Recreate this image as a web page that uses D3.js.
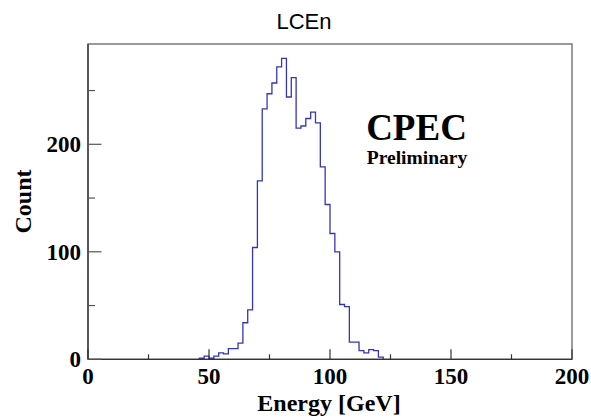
<!DOCTYPE html>
<html>
<head>
<meta charset="utf-8">
<script src="https://cdn.jsdelivr.net/npm/d3@7"></script>
<style>
  body { margin: 0; background: #fff; }
  svg { display: block; }
  .lbl { font-family: "Liberation Serif", "Times New Roman", serif; font-weight: bold; fill: #000; }
</style>
</head>
<body>
<div id="chart"></div>
<script>
// histogram LCEn, 2 GeV bins
const binEdgesLow = [46, 48, 50, 52, 54, 56, 58, 60, 62, 64,
                     66, 68, 70, 72, 74, 76, 78, 80, 82, 84,
                     86, 88, 90, 92, 94, 96, 98, 100, 102, 104,
                     106, 108, 110, 112, 114, 116, 118, 120];
const binWidth = 2;
const counts = [1, 3, 1, 3, 6, 5, 10, 10, 15, 34,
                46, 104, 166, 233, 247, 257, 272, 280, 244, 262,
                215, 217, 224, 230, 220, 179, 144, 117, 100, 51,
                49, 16, 16, 8, 6, 9, 8, 2];
const xMajorTicks = [0, 50, 100, 150, 200];
const xMinorTicks = [25, 75, 125, 175];
const yMajorTicks = [0, 100, 200];
const yMinorTicks = [50, 150, 250];

const W = 591, H = 418;
const plot = { left: 88, right: 572, top: 44, bottom: 359.3 };

const svg = d3.select("#chart").append("svg")
    .attr("width", W)
    .attr("height", H);

const x = d3.scaleLinear().domain([0, 200]).range([plot.left, plot.right]);
const y = d3.scaleLinear().domain([0, 293.3]).range([plot.bottom, plot.top]);

// frame
svg.append("rect")
    .attr("x", plot.left)
    .attr("y", plot.top)
    .attr("width", plot.right - plot.left)
    .attr("height", plot.bottom - plot.top)
    .attr("fill", "none")
    .attr("stroke", "#666")
    .attr("stroke-width", 1.3);

// step outline of the histogram
let pts = [[binEdgesLow[0], 0]];
binEdgesLow.forEach((b, i) => {
    pts.push([b, counts[i]]);
    pts.push([b + binWidth, counts[i]]);
});
pts.push([binEdgesLow[binEdgesLow.length - 1] + binWidth, 0]);

const line = d3.line()
    .x(d => x(d[0]))
    .y(d => y(d[1]));

svg.append("path")
    .attr("d", line(pts))
    .attr("fill", "none")
    .attr("stroke", "#3636b4")
    .attr("stroke-width", 1.3);

// x axis
const xAxis = svg.append("g").attr("transform", `translate(0,${plot.bottom})`);
xAxis.append("line")
    .attr("x1", plot.left).attr("x2", plot.right)
    .attr("stroke", "#333").attr("stroke-width", 1.3);
xAxis.selectAll(".maj").data(xMajorTicks).enter().append("line")
    .attr("x1", d => x(d)).attr("x2", d => x(d))
    .attr("y1", 0).attr("y2", -10)
    .attr("stroke", "#333").attr("stroke-width", 1.2);
xAxis.selectAll(".min").data(xMinorTicks).enter().append("line")
    .attr("x1", d => x(d)).attr("x2", d => x(d))
    .attr("y1", 0).attr("y2", -5)
    .attr("stroke", "#333").attr("stroke-width", 1.2);
xAxis.selectAll("text").data(xMajorTicks).enter().append("text")
    .attr("class", "lbl")
    .attr("x", d => x(d))
    .attr("y", 25)
    .attr("text-anchor", "middle")
    .attr("font-size", 23)
    .text(d => d);

// y axis
const yAxis = svg.append("g").attr("transform", `translate(${plot.left},0)`);
yAxis.append("line")
    .attr("y1", plot.top).attr("y2", plot.bottom)
    .attr("stroke", "#333").attr("stroke-width", 1.3);
yAxis.selectAll(".maj").data(yMajorTicks).enter().append("line")
    .attr("y1", d => y(d)).attr("y2", d => y(d))
    .attr("x1", 0).attr("x2", 13.5)
    .attr("stroke", "#555").attr("stroke-width", 1.2);
yAxis.selectAll(".min").data(yMinorTicks).enter().append("line")
    .attr("y1", d => y(d)).attr("y2", d => y(d))
    .attr("x1", 0).attr("x2", 7)
    .attr("stroke", "#555").attr("stroke-width", 1.2);
yAxis.selectAll("text").data(yMajorTicks).enter().append("text")
    .attr("class", "lbl")
    .attr("x", -7)
    .attr("y", d => y(d) + 8)
    .attr("text-anchor", "end")
    .attr("font-size", 23)
    .text(d => d);

// axis titles
svg.append("text")
    .attr("class", "lbl")
    .attr("x", 329)
    .attr("y", 411)
    .attr("text-anchor", "middle")
    .attr("font-size", 24)
    .text("Energy [GeV]");

svg.append("text")
    .attr("class", "lbl")
    .attr("transform", "translate(31,201.5) rotate(-90)")
    .attr("text-anchor", "middle")
    .attr("font-size", 24)
    .text("Count");

// title
svg.append("text")
    .attr("x", 304)
    .attr("y", 29)
    .attr("text-anchor", "middle")
    .attr("font-family", "'Liberation Sans', Arial, sans-serif")
    .attr("font-size", 22)
    .attr("fill", "#000")
    .text("LCEn");

// watermark
svg.append("text")
    .attr("class", "lbl")
    .attr("x", 416.5)
    .attr("y", 139.5)
    .attr("text-anchor", "middle")
    .attr("font-size", 37)
    .text("CPEC");
svg.append("text")
    .attr("class", "lbl")
    .attr("x", 417)
    .attr("y", 163.5)
    .attr("text-anchor", "middle")
    .attr("font-size", 19.5)
    .text("Preliminary");
</script>
</body>
</html>
